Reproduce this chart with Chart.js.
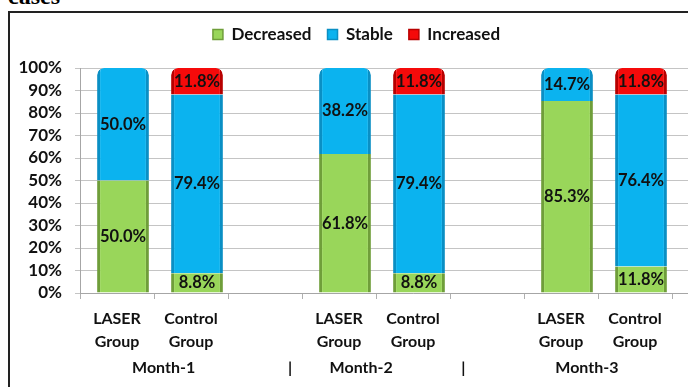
<!DOCTYPE html>
<html>
<head>
<meta charset="utf-8">
<script src="https://cdn.jsdelivr.net/npm/chart.js@4.4.1/dist/chart.umd.min.js"></script>
<style>
  html, body { margin: 0; padding: 0; background: #fff; width: 688px; height: 387px; overflow: hidden; }
  #wrap { position: relative; width: 688px; height: 387px; overflow: hidden; }
  #caption { position: absolute; left: 8px; top: -16px; font: bold 24px "Liberation Serif", "Times New Roman", serif; line-height: 24px; color: #000; }
  #frame { position: absolute; left: 8px; top: 11px; width: 700px; height: 400px; border-left: 2px solid #222; border-top: 2px solid #222; }
  #c { position: absolute; left: 0; top: 0; }
</style>
</head>
<body>
<div id="wrap">
  <div id="caption">cases</div>
  <div id="frame"></div>
  <canvas id="c" width="760" height="387"></canvas>
</div>
<script>
// Groups per month, with an empty spacer slot after each month
const categories = [
  ["LASER", "Group"], ["Control", "Group"], "",
  ["LASER", "Group"], ["Control", "Group"], "",
  ["LASER", "Group"], ["Control", "Group"], ""
];
const decreased = [50.0, 8.8, null, 61.8, 8.8, null, 85.3, 11.8, null];
const stable    = [50.0, 79.4, null, 38.2, 79.4, null, 14.7, 76.4, null];
const increased = [null, 11.8, null, null, 11.8, null, null, 11.8, null];
const months = ["Month-1", "Month-2", "Month-3"];

const FONT = 'Lato, "Open Sans", sans-serif';
const seriesData = [decreased, stable, increased];

// true when no later series has a value in this slot
function isTopOfStack(datasetIndex, index) {
  for (let d = datasetIndex + 1; d < seriesData.length; d++) {
    if (seriesData[d][index] != null) return false;
  }
  return true;
}
const topRadius = ctx => isTopOfStack(ctx.datasetIndex, ctx.dataIndex)
  ? { topLeft: 7, topRight: 7, bottomLeft: 0, bottomRight: 0 } : 0;
const sideBorder = { left: 3, right: 3, top: 0, bottom: 0 };

// bars sit slightly right of their slot; value labels drawn in the bar centre
const barLabels = {
  id: 'barLabels',
  beforeDatasetsDraw(chart) {
    chart.ctx.save();
    chart.ctx.translate(6, 0);
  },
  afterDatasetsDraw(chart) {
    const ctx = chart.ctx;
    ctx.font = 'bold 16.5px ' + FONT;
    ctx.fillStyle = '#111';
    ctx.textAlign = 'center';
    ctx.textBaseline = 'middle';
    chart.data.datasets.forEach((ds, di) => {
      chart.getDatasetMeta(di).data.forEach((el, i) => {
        const v = ds.data[i];
        if (v == null) return;
        ctx.fillText(v.toFixed(1) + '%', el.x, (el.y + el.base) / 2);
      });
    });
    ctx.restore();
  }
};

// month row under the group labels
const monthRow = {
  id: 'monthRow',
  afterDraw(chart) {
    const ctx = chart.ctx;
    const x = chart.scales.x;
    const monthAt = [0.63, 3.30, 6.35];
    const sepAt = [2.34, 4.68];
    ctx.save();
    ctx.font = 'bold 16px ' + FONT;
    ctx.fillStyle = '#111';
    ctx.textAlign = 'center';
    ctx.textBaseline = 'middle';
    const y = 368;
    months.forEach((m, i) => ctx.fillText(m, x.getPixelForValue(monthAt[i]), y));
    sepAt.forEach(s => ctx.fillText('|', x.getPixelForValue(s), y));
    ctx.restore();
  }
};

// legend: fixed block height and centred over the visible frame
const legendCentre = {
  id: 'legendCentre',
  afterInit(chart) {
    const legend = chart.legend;
    const fit = legend.fit;
    legend.fit = function () {
      fit.call(this);
      this.height = 58;
    };
  },
  afterLayout(chart) {
    chart.legend.left = 0;
    chart.legend.right = 713;
  }
};

new Chart(document.getElementById('c'), {
  type: 'bar',
  data: {
    labels: categories,
    datasets: [
      { label: 'Decreased', data: decreased, backgroundColor: '#99D65A', borderColor: '#6F9E3A',
        borderWidth: sideBorder, borderRadius: topRadius, borderSkipped: 'start' },
      { label: 'Stable', data: stable, backgroundColor: '#0BB3EF', borderColor: '#0A8FC4',
        borderWidth: sideBorder, borderRadius: topRadius, borderSkipped: 'start' },
      { label: 'Increased', data: increased, backgroundColor: '#F50A0A', borderColor: '#B80000',
        borderWidth: sideBorder, borderRadius: topRadius, borderSkipped: 'start' }
    ]
  },
  options: {
    responsive: false,
    animation: false,
    layout: { padding: { top: 10, right: 14, left: 0, bottom: 0 } },
    datasets: { bar: { barPercentage: 0.7, categoryPercentage: 1.0 } },
    plugins: {
      legend: {
        position: 'top',
        labels: {
          boxWidth: 10, boxHeight: 10, padding: 16,
          color: '#111',
          font: { family: FONT, size: 17, weight: 'bold' }
        }
      },
      tooltip: { enabled: false }
    },
    scales: {
      x: {
        stacked: true,
        afterFit(scale) { scale.height = 94; },
        grid: { offset: true, drawOnChartArea: false, drawTicks: true, tickLength: 6, color: '#B0B0B0' },
        border: { color: '#A6A6A6' },
        ticks: {
          color: '#111', padding: 8, maxRotation: 0, autoSkip: false,
          font: { family: FONT, size: 16, weight: 'bold', lineHeight: 1.45 }
        }
      },
      y: {
        stacked: true,
        min: 0, max: 100,
        afterFit(scale) { scale.width = 80; },
        grid: { color: '#C4C4C4', tickLength: 5 },
        border: { color: '#A6A6A6' },
        ticks: {
          stepSize: 10, padding: 13, color: '#111', autoSkip: false,
          font: { family: FONT, size: 17, weight: 'bold' },
          callback: v => v + '%'
        }
      }
    }
  },
  plugins: [barLabels, monthRow, legendCentre]
});
</script>
</body>
</html>
